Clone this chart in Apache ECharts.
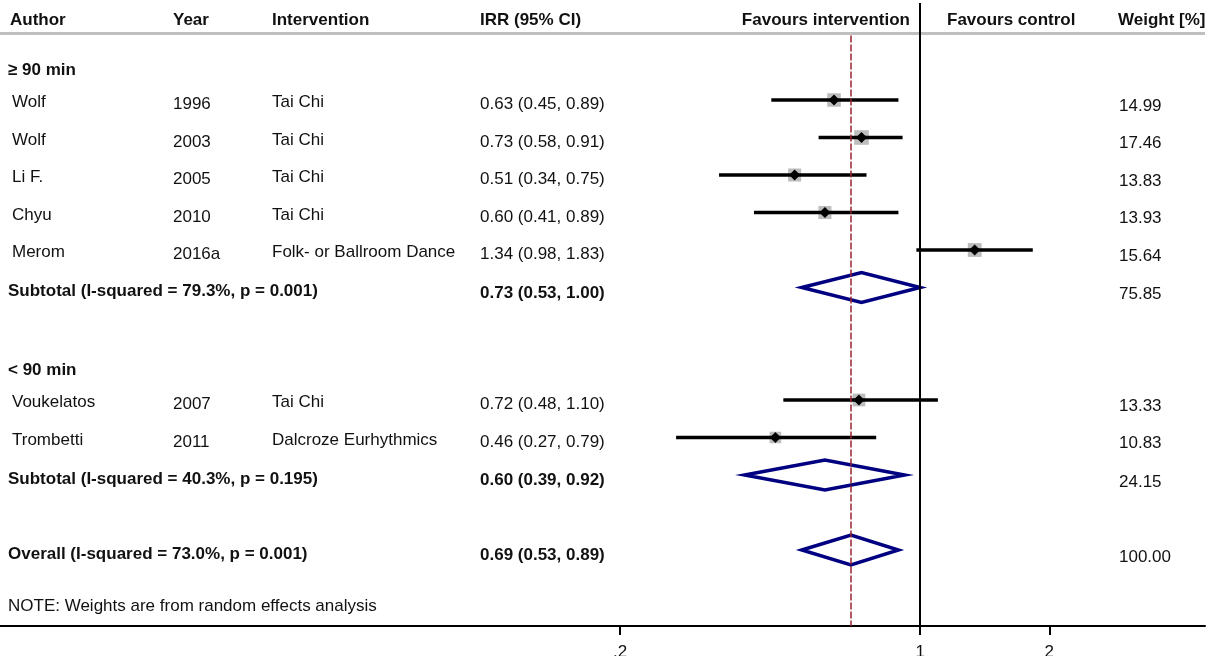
<!DOCTYPE html>
<html>
<head>
<meta charset="utf-8" />
<script src="https://cdn.jsdelivr.net/npm/echarts@6/dist/echarts.min.js"></script>
<title>Forest plot</title>
<style>
  html, body { margin: 0; padding: 0; background: #fff; }
  #chart { width: 1211px; height: 656px; }
</style>
</head>
<body>
<div id="chart"></div>
<script>
// studies
const authors = ['Wolf', 'Wolf', 'Li F.', 'Chyu', 'Merom', 'Voukelatos', 'Trombetti'];
const years = ['1996', '2003', '2005', '2010', '2016a', '2007', '2011'];
const interventions = ['Tai Chi', 'Tai Chi', 'Tai Chi', 'Tai Chi', 'Folk- or Ballroom Dance', 'Tai Chi', 'Dalcroze Eurhythmics'];
const irr = [0.63, 0.73, 0.51, 0.60, 1.34, 0.72, 0.46];
const lower = [0.45, 0.58, 0.34, 0.41, 0.98, 0.48, 0.27];
const upper = [0.89, 0.91, 0.75, 0.89, 1.83, 1.10, 0.79];
const weights = [14.99, 17.46, 13.83, 13.93, 15.64, 13.33, 10.83];
const studyRows = [1, 2, 3, 4, 5, 9, 10];

// subtotals + overall
const pooledLabels = ['Subtotal (I-squared = 79.3%, p = 0.001)', 'Subtotal (I-squared = 40.3%, p = 0.195)', 'Overall (I-squared = 73.0%, p = 0.001)'];
const pooledIrr = [0.73, 0.60, 0.69];
const pooledLower = [0.53, 0.39, 0.53];
const pooledUpper = [1.00, 0.92, 0.89];
const pooledWeights = [75.85, 24.15, 100.00];
const pooledRows = [6, 11, 13];

const groupLabels = ['≥ 90 min', '< 90 min'];
const groupRows = [0, 8];

const headers = ['Author', 'Year', 'Intervention', 'IRR (95% CI)', 'Favours intervention', 'Favours control', 'Weight [%]'];
const note = 'NOTE: Weights are from random effects analysis';

const xTicks = [0.2, 1, 2];
const xTickLabels = ['.2', '1', '2'];

// ---- layout ----
const FONT = '"Liberation Sans", Arial, sans-serif';
const TXT = '#111';
const xMin = Math.log(0.00718);   // x axis in ln(IRR)
const xMax = Math.log(4.61);
const yMin = -1.667;              // rows, 37.5px each
const yMax = 15.027;
const headerRow = -1.133;
const colX = [12, 173, 272, 480, 1119];
const fmt = v => v.toFixed(2);
const ci = (e, l, h) => fmt(e) + ' (' + fmt(l) + ', ' + fmt(h) + ')';

// text table built from the arrays above
const texts = [];
function addText(row, x, text, bold, dy, align) {
  texts.push({ row: row, x: x, text: text, bold: bold, dy: dy || 0, align: align || 'left' });
}
[0, 1, 2, 3].forEach(i => addText(headerRow, [10, 173, 272, 480][i], headers[i], true));
addText(headerRow, 910, headers[4], true, 0, 'right');
addText(headerRow, 947, headers[5], true);
addText(headerRow, 1118, headers[6], true);
groupLabels.forEach((g, i) => addText(groupRows[i], 8, g, true, 7.5));
authors.forEach((a, i) => {
  const r = studyRows[i];
  addText(r, colX[0], a, false, 2.5);
  addText(r, colX[1], years[i], false, 4.5);
  addText(r, colX[2], interventions[i], false, 2.5);
  addText(r, colX[3], ci(irr[i], lower[i], upper[i]), false, 4.5);
  addText(r, colX[4], fmt(weights[i]), false, 6);
});
pooledLabels.forEach((p, i) => {
  const r = pooledRows[i];
  addText(r, 8, p, true, 4);
  addText(r, colX[3], ci(pooledIrr[i], pooledLower[i], pooledUpper[i]), true, 5.5);
  addText(r, colX[4], fmt(pooledWeights[i]), false, 7);
});
addText(14.5, 8, note, false, 0);

const chart = echarts.init(document.getElementById('chart'));

chart.setOption({
  animation: false,
  grid: { left: 0, right: 6, top: 0, bottom: 30, containLabel: false, outerBoundsMode: 'none' },
  xAxis: {
    type: 'value',
    min: xMin,
    max: xMax,
    splitLine: { show: false },
    axisLine: { show: true, onZero: false, lineStyle: { color: '#000', width: 2 } },
    axisTick: {
      show: true,
      length: 9,
      customValues: xTicks.map(Math.log),
      lineStyle: { color: '#000', width: 2 }
    },
    axisLabel: {
      customValues: xTicks.map(Math.log),
      formatter: v => xTickLabels[xTicks.findIndex(t => Math.abs(Math.log(t) - v) < 1e-6)],
      color: TXT,
      fontSize: 17,
      fontFamily: FONT,
      margin: 18
    }
  },
  yAxis: { type: 'value', inverse: true, min: yMin, max: yMax, show: false },
  series: [
    {
      // reference lines
      type: 'line',
      data: [],
      markLine: {
        silent: true,
        symbol: 'none',
        label: { show: false },
        data: [
          [{ coord: [xMin, -0.787], lineStyle: { color: '#c0c0c0', width: 3, type: 'solid' } }, { coord: [xMax, -0.787] }],
          [{ coord: [0, -1.587], lineStyle: { color: '#000', width: 2, type: 'solid' } }, { coord: [0, yMax] }],
          [{ coord: [Math.log(pooledIrr[2]), -0.72], lineStyle: { color: '#9c2330', width: 1.5, type: [7, 2] } },
           { coord: [Math.log(pooledIrr[2]), yMax] }]
        ]
      }
    },
    {
      // study estimates
      type: 'custom',
      data: irr.map((v, i) => [Math.log(v), studyRows[i], Math.log(lower[i]), Math.log(upper[i]), weights[i]]),
      renderItem: (params, api) => {
        const r = api.value(1);
        const p = api.coord([api.value(0), r]);
        const l = api.coord([api.value(2), r]);
        const h = api.coord([api.value(3), r]);
        const s = 3.5 * Math.sqrt(api.value(4));
        const d = 5.5;
        return {
          type: 'group',
          children: [
            { type: 'rect', shape: { x: p[0] - s / 2, y: p[1] - s / 2, width: s, height: s }, style: { fill: '#bdbdbd' } },
            { type: 'line', shape: { x1: l[0], y1: l[1], x2: h[0], y2: h[1] }, style: { stroke: '#000', lineWidth: 3.5 } },
            { type: 'polygon', shape: { points: [[p[0] - d, p[1]], [p[0], p[1] - d], [p[0] + d, p[1]], [p[0], p[1] + d]] }, style: { fill: '#000' } }
          ]
        };
      }
    },
    {
      // pooled diamonds
      type: 'custom',
      data: pooledIrr.map((v, i) => [Math.log(v), pooledRows[i], Math.log(pooledLower[i]), Math.log(pooledUpper[i])]),
      renderItem: (params, api) => {
        const r = api.value(1);
        const p = api.coord([api.value(0), r]);
        const l = api.coord([api.value(2), r]);
        const h = api.coord([api.value(3), r]);
        const hh = 15;
        return {
          type: 'polygon',
          shape: { points: [[l[0], l[1]], [p[0], p[1] - hh], [h[0], h[1]], [p[0], p[1] + hh]] },
          style: { fill: 'none', stroke: '#000080', lineWidth: 3.5 }
        };
      }
    },
    {
      // table text
      type: 'custom',
      data: texts.map(t => [0, t.row]),
      renderItem: (params, api) => {
        const t = texts[params.dataIndex];
        const y = api.coord([0, t.row])[1];
        return {
          type: 'text',
          x: t.x,
          y: y + t.dy,
          style: {
            text: t.text,
            fill: TXT,
            font: (t.bold ? 'bold ' : '') + '17px ' + FONT,
            align: t.align,
            verticalAlign: 'middle'
          }
        };
      }
    }
  ]
});
</script>
</body>
</html>
